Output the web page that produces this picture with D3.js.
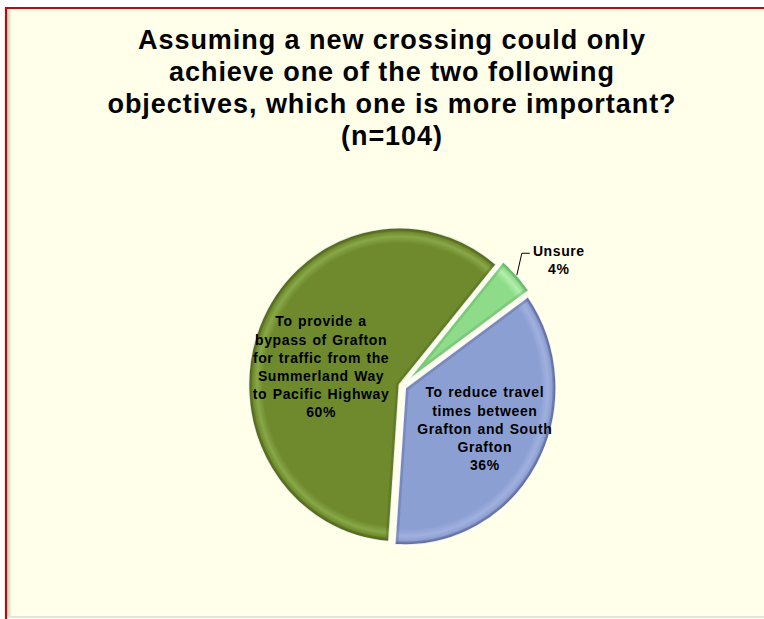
<!DOCTYPE html>
<html>
<head>
<meta charset="utf-8">
<script src="https://cdn.jsdelivr.net/npm/d3@7"></script>
<style>
  body { margin: 0; background: #fff; }
  text { font-family: "Liberation Sans", Arial, sans-serif; font-weight: bold; fill: #000; }
</style>
</head>
<body>
<svg width="764" height="619"></svg>
<script>
// chart values
var categories = ["To provide a bypass of Grafton for traffic from the Summerland Way to Pacific Highway",
                  "Unsure",
                  "To reduce travel times between Grafton and South Grafton"];
var values = [60, 4, 36];
var labelLines = [
  ["To provide a", "bypass of Grafton", "for traffic from the", "Summerland Way", "to Pacific Highway"],
  ["Unsure"],
  ["To reduce travel", "times between", "Grafton and South", "Grafton"]
];
var titleLines = ["Assuming a new crossing could only",
                  "achieve one of the two following",
                  "objectives, which one is more important?",
                  "(n=104)"];

// look of each slice: base, highlight, edge
var baseColors = ["#6E8A2C", "#8EDB8A", "#8C9FD3"];
var lightColors = ["#88A747", "#B2EEAC", "#A0B0DE"];
var edgeColors = ["#4C621A", "#5DA85A", "#56628F"];
var explode = [3, 6, 4];

var svg = d3.select("svg"),
  cx = 402, cy = 386, radius = 157, sx = 0.96;

var defs = svg.append("defs");

// frame
var frameShadow = defs.append("linearGradient").attr("id", "shadowL");
frameShadow.append("stop").attr("offset", "0%").attr("stop-color", "#C9CDB4");
frameShadow.append("stop").attr("offset", "100%").attr("stop-color", "#FFFFEA");
var frameShadowT = defs.append("linearGradient").attr("id", "shadowT")
  .attr("x1", 0).attr("y1", 0).attr("x2", 0).attr("y2", 1);
frameShadowT.append("stop").attr("offset", "0%").attr("stop-color", "#F3F3DC");
frameShadowT.append("stop").attr("offset", "100%").attr("stop-color", "#FFFFEA");

svg.append("rect").attr("x", 6).attr("y", 8).attr("width", 770).attr("height", 609).attr("fill", "#FFFFEA");
svg.append("rect").attr("x", 7).attr("y", 9).attr("width", 770).attr("height", 4).attr("fill", "url(#shadowT)");
svg.append("rect").attr("x", 7).attr("y", 9).attr("width", 5).attr("height", 607).attr("fill", "url(#shadowL)");
svg.append("line").attr("x1", 6).attr("x2", 764).attr("y1", 617).attr("y2", 617)
  .attr("stroke", "#DADDC8").attr("stroke-width", 1.5);
svg.append("path").attr("d", "M6,619 V8 H764")
  .attr("fill", "none").attr("stroke", "#A31515").attr("stroke-width", 2.2);

// title
var title = svg.append("text")
  .attr("text-anchor", "middle")
  .style("font-size", "27px")
  .style("letter-spacing", "0.95px");
title.selectAll("tspan")
  .data(titleLines)
  .enter().append("tspan")
  .attr("x", 392)
  .attr("y", function(d, i) { return 49 + i * 32; })
  .text(function(d) { return d; });

// pie
var pie = d3.pie().sort(null)
  .startAngle(184 * Math.PI / 180)
  .endAngle(184 * Math.PI / 180 + 2 * Math.PI);
var arcs = pie(values);

var arc = d3.arc().innerRadius(0).outerRadius(radius);
var labelArc = d3.arc().innerRadius(radius * 0.56).outerRadius(radius * 0.56);

function mid(d) { return (d.startAngle + d.endAngle) / 2; }
function offset(d, r) { var a = mid(d); return [Math.sin(a) * r, -Math.cos(a) * r]; }
// pie-space point to page point
function toPage(p) { return [cx + p[0] * sx, cy + p[1]]; }

arcs.forEach(function(d, i) {
  var g = defs.append("radialGradient").attr("id", "grad" + i)
    .attr("gradientUnits", "userSpaceOnUse")
    .attr("cx", 0).attr("cy", 0).attr("r", radius);
  var stops = [[0, baseColors[i]], [0.9, baseColors[i]],
               [0.945, lightColors[i]], [0.975, baseColors[i]], [1, edgeColors[i]]];
  stops.forEach(function(s) {
    g.append("stop").attr("offset", s[0]).attr("stop-color", s[1]);
  });
  defs.append("clipPath").attr("id", "clip" + i)
    .append("path").attr("d", arc(d));
});

var pieG = svg.append("g")
  .attr("transform", "translate(" + cx + "," + cy + ") scale(" + sx + ",1)");

var slice = pieG.selectAll(".slice")
  .data(arcs)
  .enter().append("g")
  .attr("class", "slice")
  .attr("transform", function(d, i) { return "translate(" + offset(d, explode[i]) + ")"; });

slice.append("path")
  .attr("d", arc)
  .attr("fill", function(d, i) { return "url(#grad" + i + ")"; });

// bevel band along every edge
slice.append("path")
  .attr("d", arc)
  .attr("clip-path", function(d, i) { return "url(#clip" + i + ")"; })
  .attr("fill", "none")
  .attr("stroke", function(d, i) { return edgeColors[i]; })
  .attr("stroke-opacity", 0.35)
  .attr("stroke-width", 7);

slice.append("path")
  .attr("d", arc)
  .attr("fill", "none")
  .attr("stroke", "#FFFFFF")
  .attr("stroke-opacity", 0.85)
  .attr("stroke-width", 1.6)
  .attr("stroke-linejoin", "round");

// inside labels
var labelG = svg.append("g");
var nudge = [[0, 20], null, [6, 3]];
var lineH = 18.2;
arcs.forEach(function(d, i) {
  if (!nudge[i]) return;
  var c = labelArc.centroid(d), o = offset(d, explode[i]);
  var p = toPage([c[0] + o[0] + nudge[i][0], c[1] + o[1] + nudge[i][1]]);
  var lines = labelLines[i].concat([values[i] + "%"]);
  var y0 = p[1] - (lines.length - 1) * lineH / 2;
  var t = labelG.append("text")
    .attr("text-anchor", "middle")
    .style("font-size", "14px")
    .style("letter-spacing", "0.6px")
    .style("word-spacing", "1px");
  t.selectAll("tspan").data(lines).enter().append("tspan")
    .attr("x", p[0])
    .attr("y", function(l, j) { return y0 + j * lineH; })
    .text(function(l) { return l; });
});

// outside label with leader for the small slice
var u = arcs[1];
var start = toPage(offset(u, radius + explode[1]));
var elbow = [start[0] + 5, start[1] - 22];
var lineEnd = [start[0] + 13, start[1] - 22];
labelG.append("path")
  .attr("d", "M" + start + "L" + elbow + "L" + lineEnd)
  .attr("fill", "none").attr("stroke", "#000").attr("stroke-width", 1);
var ut = labelG.append("text")
  .attr("text-anchor", "middle")
  .style("font-size", "14px")
  .style("letter-spacing", "0.6px");
ut.selectAll("tspan").data(labelLines[1].concat([values[1] + "%"])).enter().append("tspan")
  .attr("x", start[0] + 42)
  .attr("y", function(l, j) { return start[1] - 19 + j * lineH; })
  .text(function(l) { return l; });
</script>
</body>
</html>
